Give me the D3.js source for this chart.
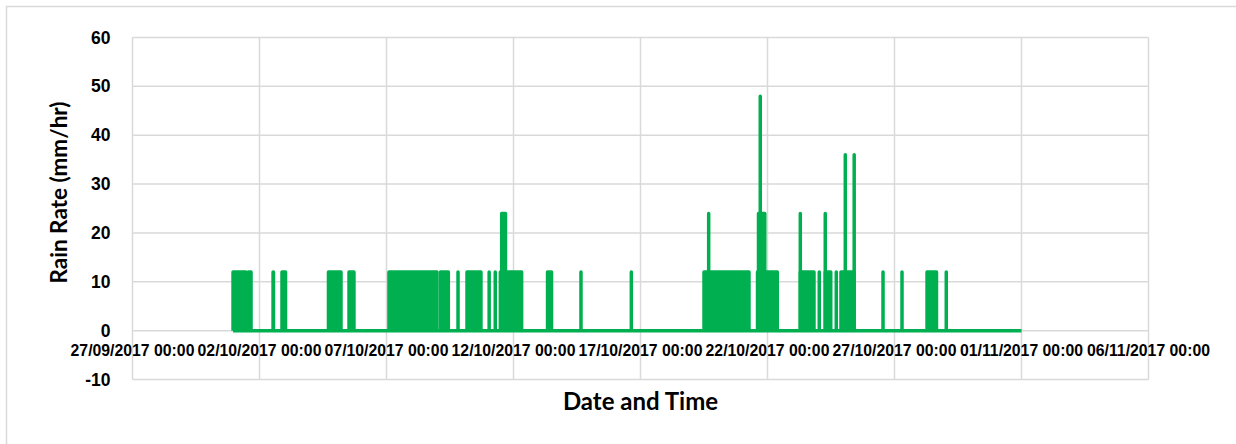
<!DOCTYPE html>
<html>
<head>
<meta charset="utf-8">
<script src="https://cdn.jsdelivr.net/npm/d3@7"></script>
<style>
  body { margin: 0; background: #fff; }
  .tick-y { font-family: "Liberation Sans", Arial, sans-serif; font-weight: bold; font-size: 17.5px; fill: #000; }
  .tick-x { font-family: "Liberation Sans", Arial, sans-serif; font-weight: bold; font-size: 15.8px; fill: #000; }
  .axis-title { font-family: Lato, "Open Sans", sans-serif; font-weight: bold; fill: #000; }
</style>
</head>
<body>
<div class="chart"></div>
<script>
var tickDates = ["27/09/2017 00:00", "02/10/2017 00:00", "07/10/2017 00:00", "12/10/2017 00:00",
                 "17/10/2017 00:00", "22/10/2017 00:00", "27/10/2017 00:00", "01/11/2017 00:00",
                 "06/11/2017 00:00"];
var yTicks = [60, 50, 40, 30, 20, 10, 0, -10];

// logger record (zero between the rain spells)
var recordStart = "30/09/2017 23:00";
var recordEnd = "01/11/2017 00:00";

// rain spells: start, end, rate (mm/hr)
var spellStart = ["30/09/2017 23:00", "01/10/2017 13:35", "02/10/2017 12:50", "02/10/2017 21:15",
                  "04/10/2017 17:10", "05/10/2017 12:35", "07/10/2017 02:20", "09/10/2017 03:00",
                  "09/10/2017 19:35", "10/10/2017 04:05", "11/10/2017 01:00", "11/10/2017 06:45",
                  "11/10/2017 11:35", "11/10/2017 12:50", "13/10/2017 08:10", "14/10/2017 15:45",
                  "16/10/2017 15:20", "19/10/2017 12:00", "19/10/2017 16:25", "21/10/2017 14:35",
                  "21/10/2017 15:30", "21/10/2017 17:10", "23/10/2017 07:00", "23/10/2017 07:00",
                  "24/10/2017 00:55", "24/10/2017 06:35", "24/10/2017 06:35", "24/10/2017 17:00",
                  "24/10/2017 21:25", "25/10/2017 01:30", "25/10/2017 09:55", "26/10/2017 13:10",
                  "27/10/2017 07:05", "28/10/2017 06:45", "29/10/2017 00:55"];
var spellEnd   = ["01/10/2017 11:15", "01/10/2017 16:00", "02/10/2017 13:10", "03/10/2017 00:35",
                  "05/10/2017 05:00", "05/10/2017 17:15", "08/10/2017 23:40", "09/10/2017 10:25",
                  "09/10/2017 19:35", "10/10/2017 17:15", "11/10/2017 01:00", "11/10/2017 06:45",
                  "12/10/2017 07:40", "11/10/2017 16:25", "13/10/2017 11:55", "14/10/2017 15:45",
                  "16/10/2017 15:20", "21/10/2017 06:30", "19/10/2017 16:25", "22/10/2017 09:15",
                  "21/10/2017 21:25", "21/10/2017 17:10", "23/10/2017 19:55", "23/10/2017 07:00",
                  "24/10/2017 00:55", "24/10/2017 11:45", "24/10/2017 06:35", "24/10/2017 17:00",
                  "25/10/2017 09:45", "25/10/2017 01:30", "25/10/2017 09:55", "26/10/2017 13:10",
                  "27/10/2017 07:05", "28/10/2017 15:40", "29/10/2017 00:55"];
var spellRate  = [12, 12, 12, 12,
                  12, 12, 12, 12,
                  12, 12, 12, 12,
                  12, 24, 12, 12,
                  12, 12, 24, 12,
                  24, 48, 12, 24,
                  12, 12, 24, 12,
                  12, 36, 36, 12,
                  12, 12, 12];

var width = 1236, height = 444;
var plot_left = 132.5, plot_right = 1148.5, plot_top = 37.5, plot_bottom = 379.5;
var green = "#00b050", gridColor = "#d9d9d9";

var parse = d3.timeParse("%d/%m/%Y %H:%M");
var ticks = tickDates.map(parse);

var svg = d3.select(".chart").append("svg")
  .attr("width", width)
  .attr("height", height);

// chart area border (right and bottom edges fall outside the picture)
svg.append("rect")
  .attr("x", 6.5).attr("y", 6.5)
  .attr("width", width + 20).attr("height", height + 20)
  .attr("fill", "none").attr("stroke", gridColor).attr("stroke-width", 1.5);

var xS = d3.scaleTime().domain([ticks[0], ticks[ticks.length - 1]]).range([plot_left, plot_right]);
var yS = d3.scaleLinear().domain([-10, 60]).range([plot_bottom, plot_top]);

// gridlines
svg.append("g").selectAll("line.h")
  .data(yTicks).enter().append("line")
  .attr("x1", plot_left).attr("x2", plot_right)
  .attr("y1", function(d){ return yS(d); })
  .attr("y2", function(d){ return yS(d); })
  .attr("stroke", gridColor).attr("stroke-width", 1.5);

svg.append("g").selectAll("line.v")
  .data(ticks).enter().append("line")
  .attr("x1", function(d){ return xS(d); })
  .attr("x2", function(d){ return xS(d); })
  .attr("y1", plot_top).attr("y2", plot_bottom)
  .attr("stroke", gridColor).attr("stroke-width", 1.5);

// y tick labels
svg.append("g").selectAll("text")
  .data(yTicks).enter().append("text")
  .attr("class", "tick-y")
  .attr("x", plot_left - 22)
  .attr("y", function(d){ return yS(d); })
  .attr("dy", "0.35em")
  .attr("text-anchor", "end")
  .text(function(d){ return d; });

// x tick labels sit just under the zero line
svg.append("g").selectAll("text")
  .data(tickDates).enter().append("text")
  .attr("class", "tick-x")
  .attr("x", function(d){ return xS(parse(d)); })
  .attr("y", yS(0) + 25)
  .attr("text-anchor", "middle")
  .text(function(d){ return d; });

// the record: zero line, then each spell as a filled pulse
var line = d3.line()
  .x(function(d){ return xS(d[0]); })
  .y(function(d){ return yS(d[1]); });

svg.append("path")
  .attr("d", line([[parse(recordStart), 0], [parse(recordEnd), 0]]))
  .attr("fill", "none")
  .attr("stroke", green)
  .attr("stroke-width", 3.5);

var spells = spellStart.map(function(s, i){
  var a = parse(s), b = parse(spellEnd[i]);
  return [[a, 0], [a, spellRate[i]], [b, spellRate[i]], [b, 0]];
});

svg.append("g").selectAll("path")
  .data(spells).enter().append("path")
  .attr("d", line)
  .attr("fill", green)
  .attr("stroke", green)
  .attr("stroke-width", 3.5)
  .attr("stroke-linejoin", "round");

// axis titles
svg.append("text")
  .attr("class", "axis-title")
  .attr("transform", "translate(67,192.5) rotate(-90)")
  .attr("text-anchor", "middle")
  .style("font-size", "22.5px")
  .text("Rain Rate (mm/hr)");

svg.append("text")
  .attr("class", "axis-title")
  .attr("x", (plot_left + plot_right) / 2)
  .attr("y", 410)
  .attr("text-anchor", "middle")
  .style("font-size", "24px")
  .text("Date and Time");
</script>
</body>
</html>
